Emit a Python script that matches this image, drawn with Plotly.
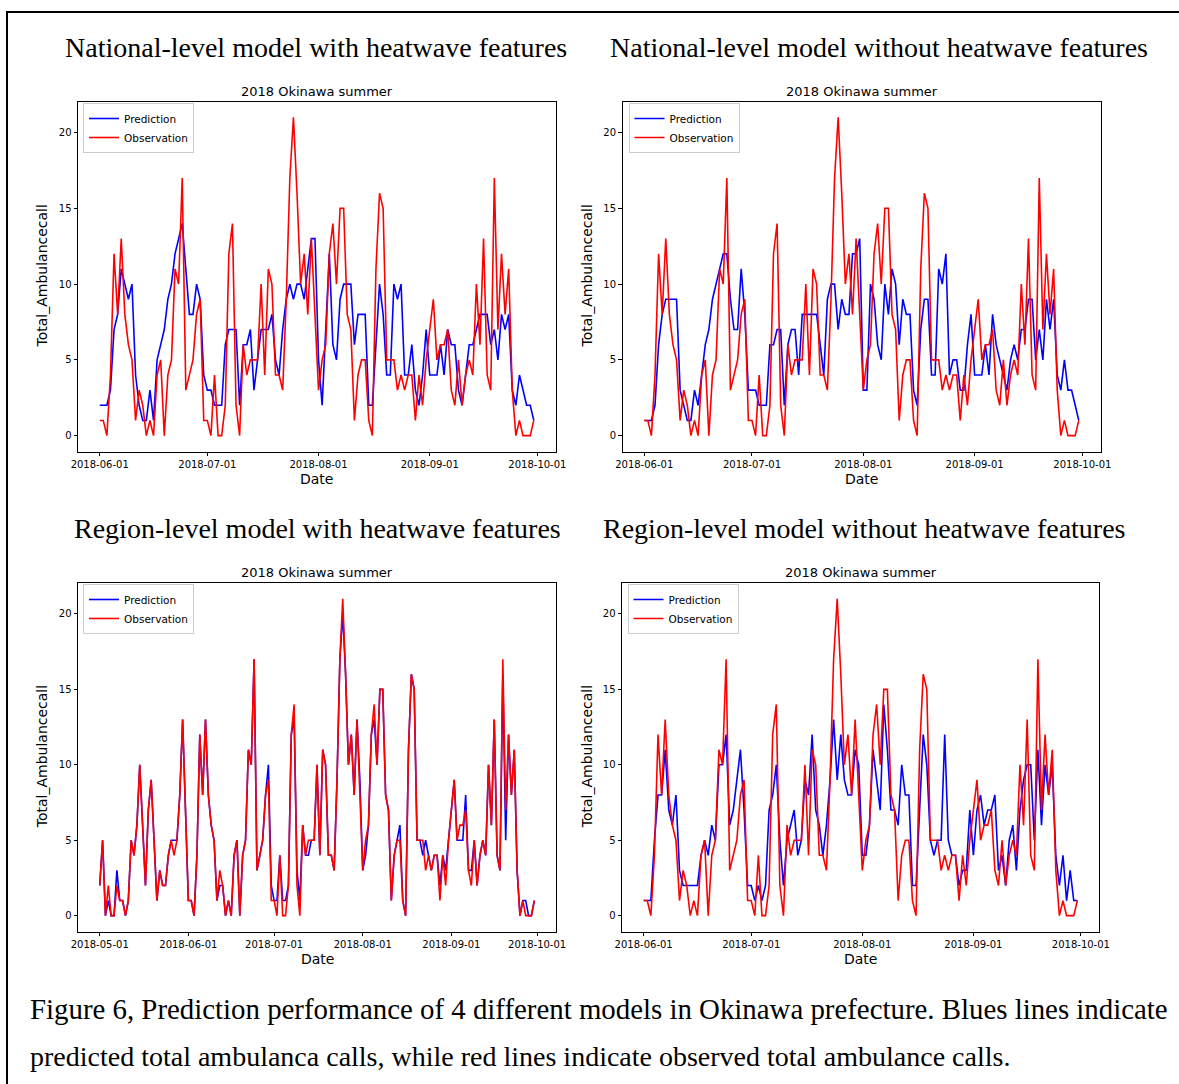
import pandas as pd
import plotly.graph_objects as go

# ---------------- data ----------------
dates_summer = pd.date_range("2018-06-01", "2018-09-30", freq="D")
dates_full = pd.date_range("2018-05-01", "2018-09-30", freq="D")

tick_summer = ["2018-06-01", "2018-07-01", "2018-08-01", "2018-09-01", "2018-10-01"]
tick_full = ["2018-05-01", "2018-06-01", "2018-07-01", "2018-08-01", "2018-09-01", "2018-10-01"]
ytick_vals = [0, 5, 10, 15, 20]

# observed total ambulance calls (May-Sep 2018)
obs_may = [2, 5, 0, 2, 0, 0, 2, 1, 1, 0, 1, 5, 4, 6, 10, 6, 2, 7, 9, 5, 1, 3, 2, 2, 4, 5, 4, 5, 8, 13, 7]
obs_jun = [1, 1, 0, 4, 12, 8, 13, 8, 6, 5, 1, 3, 2, 0, 1, 0, 4, 5, 0, 4, 5, 11, 10, 17, 3, 4, 5, 8, 9, 1]
obs_jul = [1, 0, 4, 0, 0, 2, 12, 14, 2, 0, 6, 4, 5, 5, 5, 10, 4, 11, 10, 4, 4, 3, 9, 17, 21, 16, 10, 12, 8, 13, 8]
obs_aug = [3, 5, 6, 12, 14, 10, 15, 15, 8, 7, 1, 4, 5, 5, 1, 0, 11, 16, 15, 5, 5, 5, 3, 4, 3, 4, 4, 1, 4, 2, 5]
obs_sep = [7, 9, 5, 6, 6, 7, 3, 2, 5, 2, 4, 5, 4, 10, 6, 13, 4, 3, 17, 7, 12, 8, 11, 3, 0, 1, 0, 0, 0, 1]

# national-level model with heatwave features (Jun-Sep)
nat_hw_jun = [2, 2, 2, 3, 7, 8, 11, 10, 9, 10, 4, 2, 1, 1, 3, 1, 5, 6, 7, 9, 10, 12, 13, 14, 11, 8, 8, 10, 9, 4]
nat_hw_jul = [3, 3, 2, 2, 2, 6, 7, 7, 7, 2, 6, 6, 7, 3, 5, 7, 7, 7, 8, 5, 4, 7, 9, 10, 9, 10, 10, 9, 11, 13, 13]
nat_hw_aug = [5, 2, 7, 12, 6, 5, 9, 10, 10, 10, 6, 8, 8, 8, 2, 2, 6, 10, 8, 4, 4, 10, 9, 10, 4, 4, 6, 3, 2, 4, 7]
nat_hw_sep = [4, 4, 4, 6, 4, 7, 6, 6, 3, 2, 4, 6, 6, 7, 8, 8, 8, 6, 7, 5, 8, 7, 8, 3, 2, 4, 3, 2, 2, 1]

# national-level model without heatwave features (Jun-Sep)
nat_no_jun = [1, 1, 1, 2, 6, 8, 9, 9, 9, 9, 3, 2, 1, 1, 3, 2, 4, 6, 7, 9, 10, 11, 12, 12, 9, 7, 7, 11, 8, 3]
nat_no_jul = [3, 3, 2, 2, 2, 6, 6, 7, 7, 2, 6, 7, 7, 4, 8, 8, 8, 8, 8, 6, 4, 9, 10, 10, 7, 9, 8, 8, 12, 12, 13]
nat_no_aug = [3, 3, 10, 9, 6, 5, 10, 8, 11, 10, 6, 9, 8, 8, 3, 2, 7, 9, 9, 4, 4, 11, 10, 12, 4, 5, 5, 3, 3, 6, 8]
nat_no_sep = [4, 4, 4, 6, 4, 8, 6, 5, 4, 3, 5, 6, 5, 7, 7, 9, 9, 5, 7, 5, 9, 7, 9, 4, 3, 5, 3, 3, 2, 1]

# region-level model with heatwave features (May-Sep)
reg_hw_may = [2, 5, 0, 1, 0, 0, 3, 1, 1, 0, 1, 5, 4, 6, 10, 6, 2, 7, 9, 5, 1, 3, 2, 2, 4, 5, 5, 5, 8, 13, 7]
reg_hw_jun = [1, 1, 0, 4, 12, 8, 13, 8, 6, 5, 1, 2, 2, 0, 1, 0, 4, 5, 0, 4, 5, 11, 10, 17, 3, 4, 5, 8, 10, 2]
reg_hw_jul = [1, 1, 4, 1, 1, 2, 12, 13, 3, 1, 6, 4, 4, 5, 5, 10, 4, 11, 10, 4, 4, 3, 9, 17, 20, 16, 10, 12, 8, 13, 9]
reg_hw_aug = [3, 4, 6, 12, 13, 10, 15, 15, 8, 7, 1, 4, 5, 6, 1, 0, 11, 16, 15, 5, 5, 4, 5, 4, 3, 4, 4, 2, 4, 3, 5]
reg_hw_sep = [7, 9, 5, 5, 5, 8, 3, 3, 5, 2, 4, 5, 4, 10, 6, 13, 4, 3, 16, 5, 12, 8, 11, 3, 0, 1, 1, 0, 0, 1]

# region-level model without heatwave features (Jun-Sep)
reg_no_jun = [1, 1, 1, 5, 8, 8, 11, 7, 6, 8, 3, 2, 2, 2, 2, 2, 4, 5, 4, 6, 5, 10, 10, 12, 6, 7, 9, 11, 7, 2]
reg_no_jul = [2, 1, 2, 1, 2, 7, 8, 10, 5, 2, 5, 6, 7, 4, 5, 9, 8, 12, 7, 6, 4, 6, 9, 13, 9, 12, 9, 8, 8, 11, 10]
reg_no_aug = [4, 4, 6, 11, 9, 7, 14, 11, 7, 7, 6, 10, 8, 8, 2, 2, 7, 12, 10, 5, 4, 5, 5, 12, 5, 4, 4, 2, 3, 3, 7]
reg_no_sep = [4, 7, 8, 6, 7, 7, 8, 3, 4, 2, 5, 6, 3, 7, 9, 10, 10, 5, 11, 6, 10, 8, 10, 4, 2, 4, 1, 3, 1, 1]

observed_full = obs_may + obs_jun + obs_jul + obs_aug + obs_sep
observed_summer = obs_jun + obs_jul + obs_aug + obs_sep
pred_nat_hw = nat_hw_jun + nat_hw_jul + nat_hw_aug + nat_hw_sep
pred_nat_no = nat_no_jun + nat_no_jul + nat_no_aug + nat_no_sep
pred_reg_hw = reg_hw_may + reg_hw_jun + reg_hw_jul + reg_hw_aug + reg_hw_sep
pred_reg_no = reg_no_jun + reg_no_jul + reg_no_aug + reg_no_sep

panel_titles = [
    "National-level model with heatwave features",
    "National-level model without heatwave features",
    "Region-level model with heatwave features",
    "Region-level model without heatwave features",
]
subplot_title = "2018 Okinawa summer"
caption_lines = [
    "Figure 6, Prediction performance of 4 different models in Okinawa prefecture. Blues lines indicate",
    "predicted total ambulanca calls, while red lines indicate observed total ambulance calls.",
]

# ---------------- layout helpers ----------------
W, H = 1179, 1084


def fx(x):
    return x / W


def fy(y):
    return 1 - y / H


panels = [
    dict(xd=(78, 555.5), yd=(101.5, 451.5), dates=dates_summer, pred=pred_nat_hw, obs=observed_summer,
         xr=["2018-05-25 22:48", "2018-10-06 01:12"], ticks=tick_summer, leg=(83, 103),
         title_pos=(316, 48), ylab_x=42),
    dict(xd=(622.5, 1100.5), yd=(101.5, 451.5), dates=dates_summer, pred=pred_nat_no, obs=observed_summer,
         xr=["2018-05-25 22:48", "2018-10-06 01:12"], ticks=tick_summer, leg=(628.5, 103),
         title_pos=(879, 48), ylab_x=587),
    dict(xd=(78, 556), yd=(583, 931.5), dates=dates_full, pred=pred_reg_hw, obs=observed_full,
         xr=["2018-04-23 09:36", "2018-10-07 14:24"], ticks=tick_full, leg=(83, 584),
         title_pos=(317, 528), ylab_x=42),
    dict(xd=(622, 1099), yd=(583, 931.5), dates=dates_summer, pred=pred_reg_no, obs=observed_summer,
         xr=["2018-05-25 22:48", "2018-10-06 01:12"], ticks=tick_summer, leg=(627.5, 584),
         title_pos=(864, 528), ylab_x=587),
]

fig = go.Figure()
layout = dict(
    width=W, height=H,
    margin=dict(l=0, r=0, t=0, b=0, pad=0, autoexpand=False),
    paper_bgcolor="white", plot_bgcolor="white", showlegend=True,
    font=dict(family="DejaVu Sans", color="black"),
)
annotations = []

axis_common = dict(
    showline=True, mirror=True, linecolor="black", linewidth=1,
    ticks="outside", ticklen=3.5, tickwidth=0.8, tickcolor="black",
    showgrid=False, zeroline=False, automargin=False,
    tickfont=dict(family="DejaVu Sans", size=10, color="black"),
)

for i, p in enumerate(panels, start=1):
    sfx = "" if i == 1 else str(i)
    leg = "legend" if i == 1 else f"legend{i}"
    fig.add_trace(go.Scatter(
        x=p["dates"], y=p["pred"], mode="lines", name="Prediction",
        line=dict(color="blue", width=1.6), xaxis="x" + sfx, yaxis="y" + sfx, legend=leg,
        hoverinfo="skip"))
    fig.add_trace(go.Scatter(
        x=p["dates"], y=p["obs"], mode="lines", name="Observation",
        line=dict(color="red", width=1.6), xaxis="x" + sfx, yaxis="y" + sfx, legend=leg,
        hoverinfo="skip"))

    layout["xaxis" + sfx] = dict(
        domain=[fx(p["xd"][0]), fx(p["xd"][1])], range=p["xr"], type="date",
        tickvals=p["ticks"], ticktext=p["ticks"], anchor="y" + sfx, **axis_common)
    layout["yaxis" + sfx] = dict(
        domain=[fy(p["yd"][1]), fy(p["yd"][0])], range=[-1.05, 22.05],
        tickvals=ytick_vals, anchor="x" + sfx, **axis_common)
    layout[leg] = dict(
        x=fx(p["leg"][0]), y=fy(p["leg"][1]), xanchor="left", yanchor="top",
        bgcolor="white", bordercolor="#cccccc", borderwidth=1,
        font=dict(family="DejaVu Sans", size=10.5, color="black"),
        tracegroupgap=0, itemwidth=30)

    cx = (p["xd"][0] + p["xd"][1]) / 2
    cy = (p["yd"][0] + p["yd"][1]) / 2
    # big serif panel title
    annotations.append(dict(
        text=panel_titles[i - 1], x=fx(p["title_pos"][0]), y=fy(p["title_pos"][1]),
        xref="paper", yref="paper", xanchor="center", yanchor="middle", showarrow=False,
        font=dict(family="Liberation Serif", size=28, color="black")))
    # small plot title
    annotations.append(dict(
        text=subplot_title, x=fx(cx), y=fy(p["yd"][0] - 10.5),
        xref="paper", yref="paper", xanchor="center", yanchor="middle", showarrow=False,
        font=dict(family="DejaVu Sans", size=13, color="black")))
    # x-axis label
    annotations.append(dict(
        text="Date", x=fx(cx), y=fy(p["yd"][1] + 27.5),
        xref="paper", yref="paper", xanchor="center", yanchor="middle", showarrow=False,
        font=dict(family="DejaVu Sans", size=14, color="black")))
    # y-axis label
    annotations.append(dict(
        text="Total_Ambulancecall", x=fx(p["ylab_x"]), y=fy(cy), textangle=-90,
        xref="paper", yref="paper", xanchor="center", yanchor="middle", showarrow=False,
        font=dict(family="DejaVu Sans", size=14, color="black")))

for line_text, ypos, fsize in zip(caption_lines, [1009, 1056], [28.85, 28.0]):
    annotations.append(dict(
        text=line_text, x=fx(28), y=fy(ypos), xref="paper", yref="paper",
        xanchor="left", yanchor="middle", showarrow=False,
        font=dict(family="Liberation Serif", size=fsize, color="black")))

layout["annotations"] = annotations
layout["shapes"] = [
    dict(type="line", xref="paper", yref="paper", x0=fx(6), x1=1, y0=fy(12), y1=fy(12),
         line=dict(color="black", width=2)),
    dict(type="line", xref="paper", yref="paper", x0=fx(7), x1=fx(7), y0=fy(12), y1=0,
         line=dict(color="black", width=2)),
]

fig.update_layout(**layout)
fig.write_html("out.html", config={"displayModeBar": False})
